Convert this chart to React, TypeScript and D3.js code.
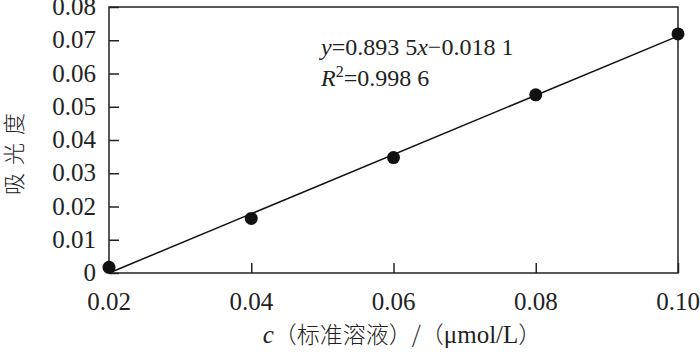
import React, { useRef, useEffect } from 'react';
import * as d3 from 'd3';

const concentrations = [0.02, 0.04, 0.06, 0.08, 0.1];
const absorbance = [0.0017, 0.0164, 0.0347, 0.0536, 0.0719];
const xTicks = [0.02, 0.04, 0.06, 0.08, 0.1];
const yTicks = [0, 0.01, 0.02, 0.03, 0.04, 0.05, 0.06, 0.07, 0.08];
const slope = 0.8935;
const intercept = -0.0181;

const serif = "'Liberation Serif', 'Times New Roman', serif";
const cjk = "'Noto Sans CJK SC', sans-serif";

const App = () => {
  const svgRef = useRef<SVGSVGElement>(null);

  useEffect(() => {
    document.body.style.margin = '0';
    const svg = d3.select(svgRef.current)
      .attr('width', 700)
      .attr('height', 355)
      .style('display', 'block')
      .style('background', '#fff');

    svg.selectAll('*').remove();

    const left = 109, right = 678, top = 7, bottom = 273;

    const x = d3.scaleLinear().domain([0.02, 0.1]).range([left, right]);
    const y = d3.scaleLinear().domain([0, 0.08]).range([bottom, top]);

    // frame
    svg.append('rect')
      .attr('x', left).attr('y', top)
      .attr('width', right - left).attr('height', bottom - top)
      .attr('fill', 'none').attr('stroke', '#222').attr('stroke-width', 1.5);

    // y axis ticks, pointing inward
    const yAxis = d3.axisRight(y).tickValues(yTicks).tickSize(10).tickFormat(() => '');
    svg.append('g').attr('transform', `translate(${left},0)`).call(yAxis)
      .call(g => g.select('.domain').remove())
      .selectAll('line').attr('stroke', '#222').attr('stroke-width', 1.5);

    svg.append('g').selectAll('text')
      .data(yTicks)
      .enter()
      .append('text')
      .attr('x', 96)
      .attr('y', d => y(d) + 8)
      .attr('text-anchor', 'end')
      .style('font-family', serif)
      .style('font-size', '25px')
      .attr('fill', '#222')
      .text(d => d === 0 ? '0' : d3.format('.2f')(d));

    // x axis ticks, pointing inward
    const xAxis = d3.axisTop(x).tickValues(xTicks).tickSize(10).tickFormat(() => '');
    svg.append('g').attr('transform', `translate(0,${bottom})`).call(xAxis)
      .call(g => g.select('.domain').remove())
      .selectAll('line').attr('stroke', '#222').attr('stroke-width', 1.5);

    svg.append('g').selectAll('text')
      .data(xTicks)
      .enter()
      .append('text')
      .attr('x', d => x(d))
      .attr('y', 310)
      .attr('text-anchor', 'middle')
      .style('font-family', serif)
      .style('font-size', '25px')
      .attr('fill', '#222')
      .text(d => d3.format('.2f')(d));

    // regression line
    const fit = [0.02, 0.1].map(c => [c, Math.max(0, slope * c + intercept)]);
    svg.append('path')
      .datum(fit)
      .attr('d', d3.line<number[]>().x(d => x(d[0])).y(d => y(d[1])))
      .attr('fill', 'none')
      .attr('stroke', '#111')
      .attr('stroke-width', 1.5);

    // points
    svg.selectAll('.pt')
      .data(concentrations)
      .enter()
      .append('circle')
      .attr('cx', d => x(d))
      .attr('cy', (d, i) => y(absorbance[i]))
      .attr('r', 6.5)
      .attr('fill', '#111');

    // equation
    const eq = svg.append('text')
      .attr('x', 321).attr('y', 55)
      .style('font-family', serif)
      .style('font-size', '24px')
      .attr('fill', '#222');
    eq.append('tspan').style('font-style', 'italic').text('y');
    eq.append('tspan').text('=0.893 5');
    eq.append('tspan').style('font-style', 'italic').text('x');
    eq.append('tspan').text('−0.018 1');

    const r2 = svg.append('text')
      .attr('x', 321).attr('y', 86)
      .style('font-family', serif)
      .style('font-size', '24px')
      .attr('fill', '#222');
    r2.append('tspan').style('font-style', 'italic').text('R');
    r2.append('tspan').attr('dy', -9).style('font-size', '16px').text('2');
    r2.append('tspan').attr('dy', 9).text('=0.998 6');

    // y title
    svg.append('text')
      .attr('transform', 'translate(14,150) rotate(-90)')
      .attr('text-anchor', 'middle')
      .attr('dy', '0.35em')
      .style('font-family', cjk)
      .style('font-size', '22px')
      .style('font-weight', 300)
      .style('letter-spacing', '8px')
      .attr('fill', '#222')
      .text('吸光度');

    // x title
    const xt = svg.append('text')
      .attr('x', 402).attr('y', 343)
      .attr('text-anchor', 'middle')
      .style('font-size', '23px')
      .attr('fill', '#222');
    xt.append('tspan').style('font-family', serif).style('font-style', 'italic').style('font-size', '25px').text('c');
    xt.append('tspan').style('font-family', cjk).style('font-weight', 300).text('（标准溶液）/（');
    xt.append('tspan').style('font-family', serif).style('font-size', '25px').text('μmol/L');
    xt.append('tspan').style('font-family', cjk).style('font-weight', 300).text('）');
  }, []);

  return <svg ref={svgRef}></svg>;
};

export default App;
